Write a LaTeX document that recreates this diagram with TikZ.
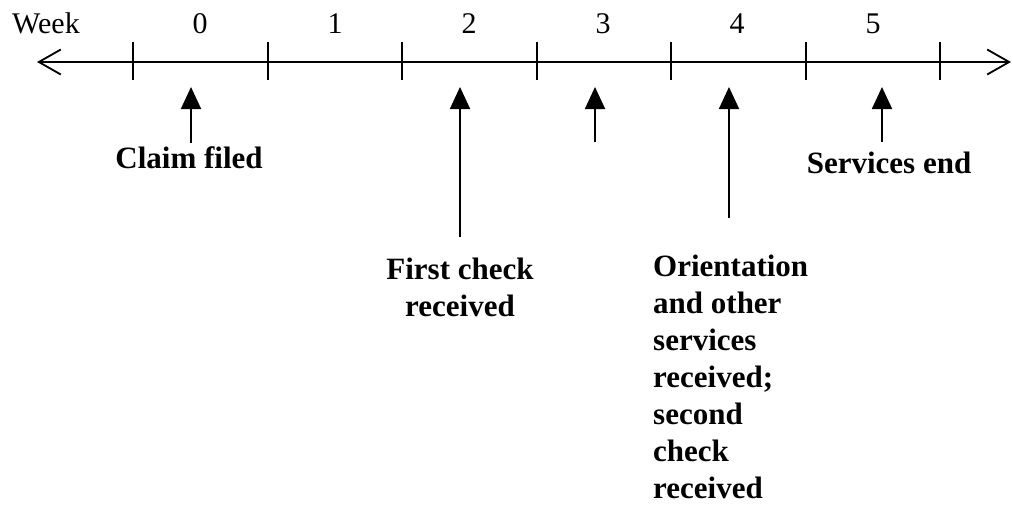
\documentclass[tikz,border=0pt]{standalone}
\usepackage{fontspec}
\setmainfont{Liberation Serif}
\usetikzlibrary{arrows.meta,positioning}
\tikzstyle{tick}=[line width=1.6pt]
\tikzstyle{event}=[line width=1.8pt,-{Triangle[width=20pt,length=22pt]}]
\tikzstyle{wk}=[font=\fontsize{30}{36}\selectfont,inner sep=0pt]
\tikzstyle{lbl}=[font=\fontsize{31}{37}\selectfont\bfseries,inner sep=0pt]

\begin{document}
\begin{tikzpicture}[x=1pt,y=-1pt]
	\useasboundingbox (0,0) rectangle (1013,507);

	% time axis
	\coordinate (left) at (37,62);
	\coordinate (right) at (1011,62);
	\draw[line width=1.8pt,{Straight Barb[length=22pt,width=25pt]}-{Straight Barb[length=22pt,width=25pt]}] (left) -- (right);
	\foreach \x in {133,268,402,537,671,806,940}
		\draw[tick] (\x,42) -- (\x,80);

	\node[wk,anchor=base west] (week) at (12,33) {Week};
	\foreach \w/\x in {0/200,1/335,2/469,3/603,4/737,5/873}
		\node[wk,anchor=base] (w\w) at (\x,33) {\w};

	% events (base = last line)
	\node[lbl,anchor=base] (claim) at (189,168) {Claim filed};
	\node[lbl,anchor=base,align=center] (first) at (460,316) {First check\\received};
	\node[lbl,anchor=base] (send) at (889,173) {Services end};
	\node[lbl,anchor=base west,align=left] (orient) at (653,498) {Orientation\\and other\\services\\received;\\second\\check\\received};

	\coordinate (c0) at (191,143);
	\coordinate (c2) at (460,237);
	\coordinate (c3) at (595,142);
	\coordinate (c4) at (729,218);
	\coordinate (c5) at (882,142);
	\foreach \i in {0,2,3,4,5}
		\draw[event] (c\i) -- (c\i |- 0,87);

\end{tikzpicture}
\end{document}
